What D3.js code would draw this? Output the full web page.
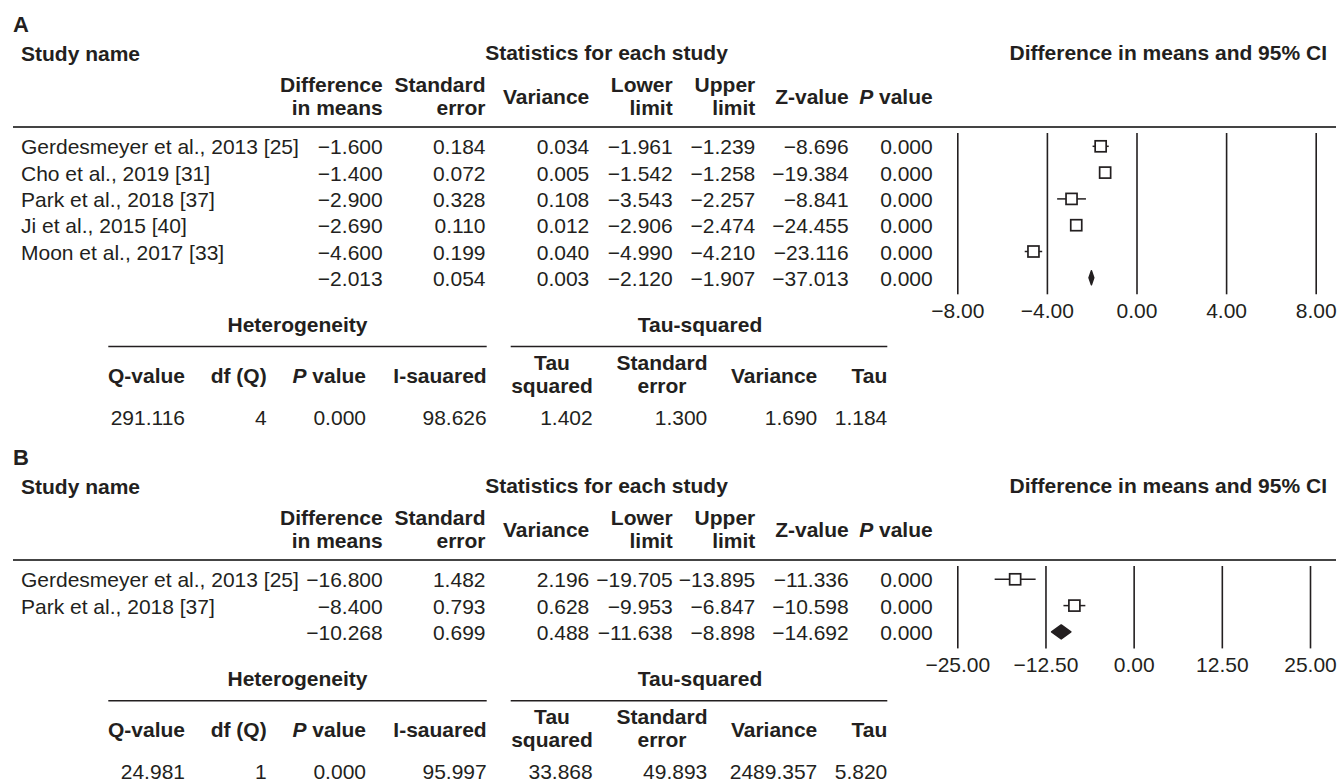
<!DOCTYPE html>
<html>
<head>
<meta charset="utf-8">
<script src="https://cdn.jsdelivr.net/npm/d3@7"></script>
<style>
    body { margin: 0; background: #fff; }
    svg { display: block; }
    text { font-family: 'Liberation Sans', Arial, sans-serif; font-size: 21px; fill: #231f20; }
    .b { font-weight: bold; }
</style>
</head>
<body>
<script>
// ---- panel A ----
const studiesA = ['Gerdesmeyer et al., 2013 [25]', 'Cho et al., 2019 [31]', 'Park et al., 2018 [37]', 'Ji et al., 2015 [40]', 'Moon et al., 2017 [33]', ''];
const diffA = [-1.600, -1.400, -2.900, -2.690, -4.600, -2.013];
const seA = [0.184, 0.072, 0.328, 0.110, 0.199, 0.054];
const varA = [0.034, 0.005, 0.108, 0.012, 0.040, 0.003];
const lowerA = [-1.961, -1.542, -3.543, -2.906, -4.990, -2.120];
const upperA = [-1.239, -1.258, -2.257, -2.474, -4.210, -1.907];
const zA = [-8.696, -19.384, -8.841, -24.455, -23.116, -37.013];
const pA = [0.000, 0.000, 0.000, 0.000, 0.000, 0.000];
const ticksA = [-8, -4, 0, 4, 8];
const heteroA = [291.116, 4, 0.000, 98.626];   // Q, df, P, I2
const tauA = [1.402, 1.300, 1.690, 1.184];     // tau2, se, variance, tau

// ---- panel B ----
const studiesB = ['Gerdesmeyer et al., 2013 [25]', 'Park et al., 2018 [37]', ''];
const diffB = [-16.800, -8.400, -10.268];
const seB = [1.482, 0.793, 0.699];
const varB = [2.196, 0.628, 0.488];
const lowerB = [-19.705, -9.953, -11.638];
const upperB = [-13.895, -6.847, -8.898];
const zB = [-11.336, -10.598, -14.692];
const pB = [0.000, 0.000, 0.000];
const ticksB = [-25, -12.5, 0, 12.5, 25];
const heteroB = [24.981, 1, 0.000, 95.997];
const tauB = [33.868, 49.893, 2489.357, 5.820];

const statHeaders = [['Difference', 'in means'], ['Standard', 'error'], ['Variance'], ['Lower', 'limit'], ['Upper', 'limit'], ['Z-value'], ['*P value']];
const statRight = [382.7, 485.5, 589.3, 672.7, 755.3, 848.7, 932.7];
const hetHeaders = [['Q-value'], ['df (Q)'], ['*P value'], ['I-sauared']];
const hetRight = [185, 266.7, 366, 486.7];
const tauHeaders = [['Tau', 'squared'], ['Standard', 'error'], ['Variance'], ['Tau']];
const tauRight = [592.7, 707.3, 817.3, 887.3];

const f3 = d3.format('.3f');
const ink = '#231f20';

const svg = d3.select('body').append('svg').attr('width', 1338).attr('height', 784);
svg.append('rect').attr('width', 1338).attr('height', 784).attr('fill', '#fff');

// header text, one or two lines; a leading * makes the first letter italic
function headerText(g, lines, x, yMid, anchor) {
    const base = lines.length === 1 ? [yMid] : [yMid - 11.5, yMid + 11.5];
    lines.forEach((line, k) => {
        const t = g.append('text').attr('class', 'b').attr('x', x).attr('y', base[k]).attr('text-anchor', anchor);
        if (line[0] === '*') {
            t.append('tspan').style('font-style', 'italic').text(line[1]);
            t.append('tspan').text(line.slice(2));
        } else t.text(line);
    });
}

function panel(top, label, names, cols, ticks, xRight, hetero, tau) {
    const g = svg.append('g').attr('transform', `translate(0,${top})`);
    const n = names.length;
    const rowY = (i) => 154.3 + i * 26.3;

    g.append('text').attr('class', 'b').attr('x', 13).attr('y', 32).style('font-size', '22px').text(label);
    g.append('text').attr('class', 'b').attr('x', 21).attr('y', 60.5).text('Study name');
    g.append('text').attr('class', 'b').attr('x', 606.5).attr('y', 60).attr('text-anchor', 'middle').text('Statistics for each study');
    g.append('text').attr('class', 'b').attr('x', 1327).attr('y', 60).attr('text-anchor', 'end').text('Difference in means and 95% CI');

    statHeaders.forEach((h, j) => headerText(g, h, statRight[j], 103.5, 'end'));
    g.append('line').attr('x1', 13).attr('x2', 1336).attr('y1', 127).attr('y2', 127)
        .attr('stroke', '#444').attr('stroke-width', 2);

    // study names and statistics
    g.selectAll('.name').data(names).join('text').attr('class', 'name')
        .attr('x', 21).attr('y', (d, i) => rowY(i)).text((d) => d);
    cols.forEach((col, j) => {
        g.selectAll('.c' + j).data(col).join('text').attr('class', 'c' + j)
            .attr('x', statRight[j]).attr('y', (d, i) => rowY(i)).attr('text-anchor', 'end').text((d) => f3(d));
    });

    // forest plot
    const x = d3.scaleLinear().domain([ticks[0], ticks[ticks.length - 1]]).range([957.3, xRight]);
    const gridTop = 133;
    const gridBottom = rowY(n - 1) + 8.5;
    const axis = g.append('g').attr('transform', `translate(0,${gridBottom})`)
        .call(d3.axisBottom(x).tickValues(ticks).tickFormat(d3.format('.2f'))
            .tickSizeInner(-(gridBottom - gridTop)).tickSizeOuter(0).tickPadding(8.5));
    axis.select('.domain').remove();
    axis.attr('font-size', null).attr('font-family', null);
    axis.selectAll('.tick line').attr('stroke', ink).attr('stroke-width', 1.6);
    axis.selectAll('.tick text').attr('fill', ink);

    const [diff, , , lower, upper] = cols;
    const studyIdx = d3.range(n - 1);
    g.selectAll('.ci').data(studyIdx).join('line').attr('class', 'ci')
        .attr('x1', (i) => x(lower[i])).attr('x2', (i) => x(upper[i]))
        .attr('y1', (i) => rowY(i) - 8).attr('y2', (i) => rowY(i) - 8)
        .attr('stroke', ink).attr('stroke-width', 1.5);
    g.selectAll('.sq').data(studyIdx).join('rect').attr('class', 'sq')
        .attr('x', (i) => x(diff[i]) - 5.5).attr('y', (i) => rowY(i) - 13.5)
        .attr('width', 11).attr('height', 11)
        .attr('fill', '#fff').attr('stroke', ink).attr('stroke-width', 1.7);
    const s = n - 1, cy = rowY(s) - 8;
    g.append('path')
        .attr('d', `M${x(lower[s])},${cy}L${x(diff[s])},${cy - 7}L${x(upper[s])},${cy}L${x(diff[s])},${cy + 7}Z`)
        .attr('fill', ink).attr('stroke', ink).attr('stroke-width', 1.5).attr('stroke-linejoin', 'round');

    // heterogeneity / tau-squared table
    const tY = rowY(n - 1) + 46.3;
    g.append('text').attr('class', 'b').attr('x', 297.5).attr('y', tY).attr('text-anchor', 'middle').text('Heterogeneity');
    g.append('text').attr('class', 'b').attr('x', 700).attr('y', tY).attr('text-anchor', 'middle').text('Tau-squared');
    g.append('line').attr('x1', 108.3).attr('x2', 486.7).attr('y1', tY + 14.5).attr('y2', tY + 14.5).attr('stroke', ink).attr('stroke-width', 1.5);
    g.append('line').attr('x1', 510.7).attr('x2', 887.3).attr('y1', tY + 14.5).attr('y2', tY + 14.5).attr('stroke', ink).attr('stroke-width', 1.5);

    hetHeaders.forEach((h, j) => headerText(g, h, hetRight[j], tY + 50.7, 'end'));
    tauHeaders.forEach((h, j) => {
        if (h.length === 2) headerText(g, h, j === 0 ? 552 : 662, tY + 49.7, 'middle');
        else headerText(g, h, tauRight[j], tY + 50.7, 'end');
    });

    const fmtH = [f3, d3.format('d'), f3, f3];
    g.selectAll('.hv').data(hetero).join('text').attr('class', 'hv')
        .attr('x', (d, j) => hetRight[j]).attr('y', tY + 92.5).attr('text-anchor', 'end').text((d, j) => fmtH[j](d));
    g.selectAll('.tv').data(tau).join('text').attr('class', 'tv')
        .attr('x', (d, j) => tauRight[j]).attr('y', tY + 92.5).attr('text-anchor', 'end').text((d) => f3(d));
}

panel(0, 'A', studiesA, [diffA, seA, varA, lowerA, upperA, zA, pA], ticksA, 1315.7, heteroA, tauA);
panel(433, 'B', studiesB, [diffB, seB, varB, lowerB, upperB, zB, pB], ticksB, 1310, heteroB, tauB);
</script>
</body>
</html>
